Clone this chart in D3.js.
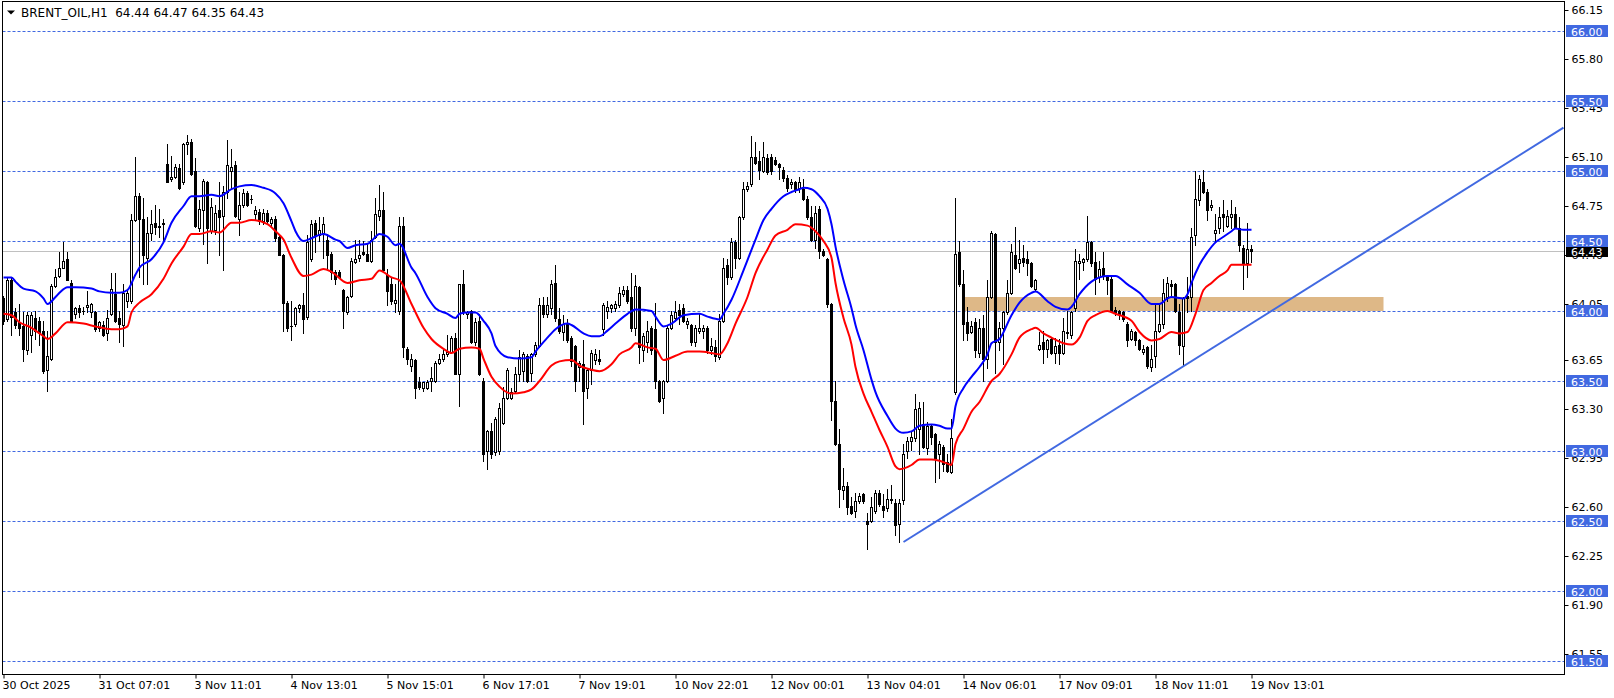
<!DOCTYPE html>
<html><head><meta charset="utf-8">
<script src="https://cdn.jsdelivr.net/npm/d3@7"></script>
<style>html,body{margin:0;padding:0;background:#fff;overflow:hidden}text{font-family:"DejaVu Sans",sans-serif;font-size:11px}</style>
</head><body>
<svg id="c" width="1614" height="698"></svg>
<script>
const symbolTitle = "BRENT_OIL,H1";
const lastQuote = [64.44, 64.47, 64.35, 64.43];
const opens = [
64.09,63.94,64.22,63.99,63.92,63.89,63.72,63.83,63.95,63.93,
63.86,63.58,63.66,64.18,64.25,64.31,64.37,64.20,63.98,64.02,
64.00,64.03,63.99,63.99,63.88,63.90,63.84,63.98,64.12,63.95,
63.90,64.07,64.07,64.65,64.82,64.66,64.38,64.56,64.63,64.60,
64.62,65.05,64.94,64.96,65.02,64.92,65.19,65.21,65.00,64.59,
64.72,64.92,64.57,64.58,64.72,64.68,64.85,65.00,65.04,64.66,
64.76,64.84,64.80,64.69,64.71,64.64,64.70,64.63,64.66,64.53,
64.40,64.06,63.89,63.91,64.02,64.04,63.96,64.37,64.63,64.54,
64.56,64.51,64.41,64.28,64.28,64.15,63.99,64.11,64.35,64.38,
64.42,64.41,64.36,64.53,64.68,64.72,64.26,64.19,64.06,64.00,
64.61,63.73,63.61,63.65,63.49,63.45,63.45,63.50,63.50,63.63,
63.66,63.69,63.71,63.81,63.55,64.19,63.98,64.00,63.78,63.93,
63.50,63.00,63.14,62.99,63.00,63.20,63.38,63.38,63.43,63.55,
63.57,63.68,63.56,63.69,63.75,64.04,63.98,64.02,64.20,63.94,
63.85,63.91,63.81,63.75,63.60,63.62,63.45,63.58,63.65,63.66,
63.87,64.00,64.02,64.02,64.04,64.12,64.15,64.10,63.88,64.17,
63.72,63.78,63.88,63.87,63.50,63.38,63.50,63.88,63.95,64.01,
64.02,63.91,63.90,63.78,63.86,63.86,63.88,63.72,63.74,63.67,
63.93,64.33,64.24,64.49,64.38,64.67,64.87,64.91,65.10,65.07,
65.00,65.09,65.10,65.08,65.05,65.01,64.95,64.91,64.92,64.88,
64.87,64.80,64.67,64.51,64.73,64.43,64.37,64.05,63.36,63.05,
62.72,62.75,62.61,62.57,62.64,62.69,62.50,62.50,62.57,62.70,
62.61,62.59,62.65,62.63,62.48,62.65,63.00,63.07,63.09,63.16,
63.19,63.02,63.18,63.12,62.98,63.03,62.92,62.85,63.42,64.42,
64.19,63.92,63.85,63.92,63.70,63.88,63.66,64.10,64.55,63.78,
63.88,63.99,64.13,64.40,64.34,64.38,64.37,64.34,64.16,63.73,
63.78,63.73,63.80,63.70,63.76,63.70,63.85,63.83,64.02,64.34,
64.35,64.37,64.49,64.35,64.24,64.31,64.24,64.23,64.01,64.00,
63.99,63.91,63.80,63.85,63.79,63.71,63.74,63.60,63.68,63.86,
63.91,64.10,64.19,64.19,63.99,63.75,64.11,64.10,64.54,64.79,
64.92,64.85,64.74,64.56,64.59,64.69,64.61,64.67,64.69,64.59,
64.45,64.34,64.44];
const highs = [
64.11,64.24,64.24,64.02,64.05,63.99,63.99,63.99,64.00,63.96,
63.93,63.86,64.19,64.30,64.42,64.49,64.42,64.22,64.03,64.04,
64.03,64.14,64.06,64.00,63.93,63.93,64.01,64.27,64.27,64.00,
64.19,64.16,64.69,65.10,64.84,64.81,64.67,64.72,64.76,64.73,
64.66,65.19,65.11,65.05,65.05,65.20,65.26,65.23,65.09,64.79,
64.94,64.93,64.81,64.76,64.92,64.89,65.22,65.16,65.07,64.85,
64.87,64.86,64.83,64.75,64.73,64.73,64.72,64.67,64.68,64.55,
64.41,64.07,64.07,64.03,64.05,64.13,64.54,64.65,64.65,64.67,
64.67,64.55,64.42,64.29,64.29,64.16,64.11,64.38,64.51,64.51,
64.50,64.48,64.57,64.81,64.90,64.85,64.30,64.24,64.19,64.67,
64.67,63.74,63.69,63.66,63.53,63.49,63.51,63.60,63.64,63.69,
63.72,63.83,63.82,63.84,64.19,64.29,64.00,64.01,63.95,63.98,
63.52,63.15,63.20,63.24,63.34,63.46,63.59,63.45,63.60,63.72,
63.71,63.69,63.70,63.78,64.09,64.10,64.10,64.22,64.33,64.02,
63.97,63.94,63.82,63.76,63.64,63.79,63.59,63.72,63.73,63.72,
64.06,64.07,64.05,64.07,64.17,64.18,64.18,64.27,64.26,64.18,
63.84,63.93,63.89,64.06,63.51,63.51,63.89,64.00,64.07,64.05,
64.05,63.95,63.91,63.90,63.98,63.90,63.89,63.81,63.79,63.98,
64.38,64.37,64.52,64.51,64.68,64.92,64.92,65.25,65.21,65.14,
65.21,65.12,65.12,65.10,65.06,65.03,64.97,64.94,64.93,64.96,
64.94,64.82,64.75,64.75,64.75,64.44,64.38,64.06,63.50,63.16,
62.88,62.78,62.67,62.70,62.70,62.70,62.56,62.67,62.72,62.72,
62.69,62.73,62.76,62.66,62.66,63.05,63.10,63.14,63.41,63.35,
63.35,63.21,63.19,63.13,63.07,63.04,62.98,63.23,64.81,64.50,
64.29,64.03,63.93,63.95,63.94,63.97,64.22,64.57,64.56,63.92,
64.00,64.22,64.48,64.60,64.51,64.47,64.43,64.35,64.23,63.85,
63.86,63.80,63.81,63.81,63.80,63.95,64.00,64.00,64.44,64.41,
64.38,64.68,64.50,64.42,64.36,64.42,64.26,64.24,64.03,64.01,
64.00,63.92,63.87,63.86,63.80,63.76,63.75,63.76,64.06,64.05,
64.23,64.24,64.22,64.20,64.05,64.10,64.24,64.59,65.00,64.97,
65.01,64.87,64.79,64.69,64.74,64.79,64.72,64.79,64.74,64.67,
64.47,64.63,64.47];
const lows = [
63.91,63.93,63.83,63.88,63.83,63.64,63.69,63.71,63.80,63.76,
63.56,63.43,63.65,64.17,64.24,64.31,64.22,63.92,63.95,63.96,
63.98,63.99,63.96,63.86,63.86,63.82,63.79,63.97,63.92,63.78,
63.75,64.03,64.06,64.64,64.24,64.19,64.19,64.51,64.55,64.53,
64.49,64.92,64.93,64.95,64.87,64.91,65.12,64.97,64.60,64.57,
64.48,64.34,64.56,64.55,64.40,64.29,64.81,64.88,64.67,64.54,
64.74,64.75,64.77,64.65,64.62,64.62,64.63,64.61,64.50,64.40,
63.86,63.86,63.79,63.89,63.99,63.84,63.94,64.36,64.42,64.50,
64.38,64.31,64.23,64.19,64.24,63.88,63.98,64.10,64.34,64.36,
64.40,64.36,64.35,64.52,64.65,64.28,64.04,64.05,63.99,63.98,
63.67,63.62,63.57,63.38,63.44,63.43,63.44,63.43,63.49,63.62,
63.64,63.68,63.70,63.55,63.32,63.98,63.95,63.77,63.76,63.54,
62.93,62.87,62.95,62.97,62.98,63.19,63.37,63.37,63.42,63.50,
63.50,63.49,63.50,63.68,63.74,63.96,63.96,63.98,63.93,63.84,
63.79,63.78,63.61,63.43,63.50,63.19,63.38,63.48,63.62,63.62,
63.83,63.95,63.99,64.00,64.03,64.11,64.06,63.86,63.83,63.63,
63.64,63.71,63.69,63.45,63.35,63.27,63.49,63.87,63.93,63.91,
63.92,63.88,63.76,63.75,63.84,63.81,63.70,63.69,63.64,63.66,
63.92,64.19,64.23,64.31,64.37,64.66,64.86,64.89,65.05,64.94,
64.99,64.98,64.98,65.04,64.94,64.93,64.86,64.88,64.85,64.85,
64.79,64.66,64.50,64.45,64.38,64.39,64.03,63.22,63.04,62.60,
62.66,62.55,62.55,62.53,62.63,62.63,62.30,62.49,62.56,62.61,
62.53,62.57,62.63,62.40,62.35,62.62,62.95,63.01,63.07,62.98,
63.02,62.98,63.05,62.78,62.81,62.86,62.85,62.84,63.41,64.18,
63.79,63.79,63.84,63.67,63.67,63.50,63.59,64.09,63.56,63.72,
63.62,63.98,64.12,64.30,64.28,64.32,64.26,64.17,64.15,63.72,
63.63,63.67,63.69,63.63,63.62,63.69,63.81,63.81,64.00,64.23,
64.29,64.36,64.32,64.12,64.21,64.23,64.12,63.99,63.97,63.94,
63.93,63.75,63.79,63.76,63.72,63.69,63.59,63.57,63.60,63.85,
63.88,64.07,64.10,63.99,63.69,63.61,63.99,64.00,64.47,64.76,
64.84,64.65,64.72,64.49,64.56,64.57,64.60,64.59,64.59,64.43,
64.16,64.24,64.35];
const closes = [
63.93,64.22,63.96,63.90,63.88,63.73,63.97,63.97,63.86,63.84,
63.57,63.68,64.18,64.24,64.31,64.36,64.22,63.93,64.02,63.99,
64.00,64.04,64.05,63.87,63.92,63.83,63.95,64.16,63.93,63.91,
64.13,64.13,64.65,64.82,64.66,64.40,64.56,64.62,64.60,64.61,
64.63,64.92,64.96,65.03,64.88,65.19,65.21,64.98,64.61,64.73,
64.93,64.59,64.74,64.70,64.67,64.85,65.04,65.03,64.68,64.76,
64.84,64.76,64.80,64.72,64.64,64.70,64.64,64.66,64.52,64.40,
64.06,63.88,63.89,64.02,64.04,63.94,64.49,64.62,64.54,64.58,
64.62,64.40,64.28,64.23,64.24,64.00,64.10,64.36,64.37,64.40,
64.41,64.36,64.51,64.69,64.72,64.29,64.14,64.07,64.08,64.61,
63.74,63.66,63.66,63.45,63.46,63.49,63.49,63.52,63.63,63.66,
63.69,63.71,63.81,63.55,64.19,64.00,63.99,63.78,63.92,63.55,
62.98,63.14,62.98,63.23,63.31,63.38,63.58,63.42,63.55,63.67,
63.69,63.50,63.69,63.76,64.04,63.98,64.04,64.19,63.95,63.86,
63.91,63.79,63.64,63.50,63.63,63.43,63.58,63.70,63.69,63.64,
64.04,64.03,64.04,64.05,64.13,64.15,64.07,63.88,64.18,63.74,
63.82,63.86,63.72,63.50,63.36,63.50,63.88,63.97,63.99,63.97,
63.93,63.93,63.78,63.88,63.88,63.88,63.72,63.75,63.68,63.93,
64.31,64.24,64.49,64.38,64.67,64.87,64.89,65.10,65.06,65.01,
65.10,64.99,65.00,65.05,65.03,64.95,64.88,64.92,64.87,64.92,
64.80,64.67,64.51,64.70,64.43,64.40,64.05,63.36,63.05,62.73,
62.75,62.60,62.56,62.64,62.68,62.64,62.48,62.60,62.70,62.62,
62.58,62.66,62.66,62.47,62.63,62.98,63.07,63.10,63.30,63.31,
63.03,63.18,63.10,62.95,63.05,62.91,62.86,63.09,64.41,64.19,
63.91,63.84,63.89,63.72,63.88,63.66,64.10,64.56,63.78,63.88,
63.99,64.13,64.42,64.31,64.37,64.35,64.34,64.18,64.22,63.76,
63.73,63.79,63.70,63.75,63.70,63.86,63.84,63.99,64.36,64.36,
64.37,64.49,64.34,64.23,64.30,64.25,64.22,64.00,63.99,63.98,
63.94,63.79,63.86,63.79,63.73,63.73,63.61,63.66,63.86,63.91,
64.13,64.20,64.18,64.00,63.76,64.09,64.09,64.53,64.80,64.94,
64.85,64.72,64.76,64.58,64.67,64.67,64.68,64.69,64.60,64.47,
64.34,64.44,64.43];

const blueBars = [0,2,3,5,8,10,11,13,14,16,18,22,24,27,29,31,33,34,37,40,42,45,47,49,52,54,57,59,62,65,67,68,70,72,73,75,77,80,83,84,86,88,91,92,94,96,98,99,102,103,106,108,111,113,114,116,118,120,122,123,126,129,132,133,136,138,141,142,145,147,149,151,153,156,158,162,163,165,167,170,174,176,179,180,182,185,188,190,192,195,197,199,200,202,204,206,207,208,210,212,213,215,217,218,221,223,225,227,229,232,234,236,237,238,240,242,244,246,247,249,252,254,257,258,261,263,266,267,269,272,274,276,278,281,284,287,289,291,292,295,296,297,299,301,303,305,307,308,310,312];
const blueVals = [64.24,64.24,64.21,64.16,64.14,64.09,64.05,64.10,64.13,64.17,64.17,64.16,64.14,64.13,64.13,64.15,64.26,64.31,64.37,64.49,64.63,64.75,64.82,64.82,64.83,64.82,64.87,64.89,64.90,64.88,64.86,64.84,64.77,64.64,64.57,64.50,64.52,64.55,64.51,64.50,64.45,64.47,64.48,64.50,64.55,64.53,64.47,64.48,64.31,64.27,64.10,64.02,63.98,63.95,63.98,63.99,63.99,63.93,63.84,63.75,63.67,63.66,63.67,63.71,63.81,63.87,63.91,63.90,63.84,63.82,63.82,63.86,63.91,63.98,64.01,64.00,63.96,63.89,63.91,63.97,63.98,63.96,63.94,63.98,64.08,64.29,64.51,64.65,64.73,64.82,64.85,64.87,64.88,64.87,64.82,64.73,64.62,64.46,64.22,64.02,63.90,63.72,63.51,63.42,63.25,63.16,63.13,63.14,63.18,63.19,63.18,63.16,63.16,63.32,63.45,63.53,63.60,63.69,63.77,63.80,63.97,64.06,64.13,64.14,64.07,64.03,64.01,64.03,64.12,64.21,64.24,64.25,64.25,64.19,64.13,64.05,64.05,64.09,64.10,64.09,64.12,64.20,64.33,64.42,64.49,64.53,64.57,64.59,64.58,64.58];
const redBars = [0,2,4,7,8,10,11,13,16,20,23,27,29,31,32,34,37,40,42,45,47,49,52,54,57,59,62,66,68,70,72,75,77,80,82,86,89,92,94,97,99,102,105,107,110,112,114,117,119,120,122,124,127,130,132,134,137,139,142,144,147,149,152,154,157,158,161,163,165,168,171,174,177,179,181,183,186,188,191,193,196,198,201,203,205,207,208,210,212,213,215,217,219,221,223,224,227,229,232,234,236,237,238,240,242,244,247,249,252,254,257,258,260,262,265,267,269,271,273,276,278,282,284,287,289,292,294,296,298,300,302,304,306,307,312];
const redVals = [63.98,63.97,63.92,63.88,63.86,63.82,63.80,63.84,63.92,63.91,63.89,63.87,63.87,63.89,63.99,64.06,64.12,64.23,64.34,64.46,64.55,64.55,64.57,64.56,64.63,64.63,64.65,64.62,64.57,64.51,64.38,64.25,64.26,64.30,64.28,64.20,64.22,64.23,64.29,64.24,64.22,64.05,63.88,63.80,63.73,63.70,63.73,63.74,63.73,63.66,63.53,63.46,63.41,63.42,63.44,63.50,63.61,63.64,63.65,63.61,63.58,63.57,63.62,63.69,63.74,63.77,63.74,63.73,63.65,63.68,63.71,63.71,63.70,63.69,63.77,63.91,64.10,64.27,64.44,64.54,64.58,64.62,64.61,64.57,64.50,64.38,64.20,63.95,63.76,63.60,63.41,63.28,63.15,63.03,62.89,62.87,62.90,62.94,62.94,62.93,62.91,62.90,63.05,63.16,63.28,63.35,63.50,63.55,63.69,63.81,63.87,63.88,63.84,63.81,63.77,63.76,63.81,63.93,63.97,64.00,63.98,63.93,63.85,63.79,63.80,63.85,63.84,63.85,63.98,64.15,64.20,64.25,64.29,64.33,64.33];

const xTickBars = [0,24,48,72,96,120,144,168,192,216,240,264,288,312];
const xTickLabels = ["30 Oct 2025","31 Oct 07:01","3 Nov 11:01","4 Nov 13:01","5 Nov 15:01","6 Nov 17:01","7 Nov 19:01","10 Nov 22:01","12 Nov 00:01","13 Nov 04:01","14 Nov 06:01","17 Nov 09:01","18 Nov 11:01","19 Nov 13:01"];
const priceTicks = [66.15,65.80,65.45,65.10,64.75,64.40,64.05,63.65,63.30,62.95,62.60,62.25,61.90,61.55];
const levels = [66.00,65.50,65.00,64.50,64.00,63.50,63.00,62.50,62.00,61.50];
const currentPrice = 64.43;
const zoneBars = [240,345];
const zonePrices = [64.10,64.00];
const trendBars = [225,390];
const trendPrices = [62.35,65.31];

const L=2.5, R=1564.5, T=1.5, B=674.5;
const x = d3.scaleLinear().domain([0,390]).range([3.5, 3.5+4*390]);
const y = d3.scaleLinear().domain([61.5,66]).range([661,31]);
const py = v => Math.round(y(v));
const svg = d3.select('#c');
svg.append('rect').attr('width',1614).attr('height',698).attr('fill','#fff');
svg.append('defs').append('clipPath').attr('id','clip').append('rect')
  .attr('x',L).attr('y',T).attr('width',R-L).attr('height',B-T);
const g = svg.append('g').attr('clip-path','url(#clip)');

// horizontal levels
g.selectAll('line.lvl').data(levels).join('line').attr('class','lvl')
  .attr('x1',L).attr('x2',R).attr('y1',d=>py(d)+0.5).attr('y2',d=>py(d)+0.5)
  .attr('stroke','#4169E1').attr('stroke-width',1).attr('stroke-dasharray','3,2');
// current price line
g.append('line').attr('x1',L).attr('x2',R).attr('y1',py(currentPrice)+0.5).attr('y2',py(currentPrice)+0.5)
  .attr('stroke','#C0C0C0').attr('stroke-width',1);
// zone
g.append('rect').attr('x',x(zoneBars[0])).attr('width',x(zoneBars[1])-x(zoneBars[0]))
  .attr('y',py(zonePrices[0])).attr('height',py(zonePrices[1])-py(zonePrices[0]))
  .attr('fill','#DEB887');

// candles
const idx = d3.range(opens.length);
const cg = g.append('g');
cg.selectAll('line.wick').data(idx).join('line').attr('class','wick')
  .attr('x1',i=>x(i)).attr('x2',i=>x(i))
  .attr('y1',i=>py(Math.max(highs[i],opens[i],closes[i])))
  .attr('y2',i=>py(Math.min(lows[i],opens[i],closes[i]))+1)
  .attr('stroke','#000').attr('stroke-width',1);
idx.forEach(i=>{
  const top = py(Math.max(opens[i],closes[i]));
  const bot = py(Math.min(opens[i],closes[i]));
  const cx = x(i);
  if (bot-top < 1) {
    cg.append('rect').attr('x',cx-1.5).attr('y',top).attr('width',3).attr('height',1).attr('fill','#000');
  } else if (closes[i] > opens[i]) {
    cg.append('rect').attr('x',cx-1).attr('y',top+0.5).attr('width',2).attr('height',bot-top)
      .attr('fill','#fff').attr('stroke','#000').attr('stroke-width',1);
  } else {
    cg.append('rect').attr('x',cx-1.5).attr('y',top).attr('width',3).attr('height',bot-top+1).attr('fill','#000');
  }
});

// moving averages
const line = d3.line().curve(d3.curveMonotoneX);
g.append('path').attr('d',line(blueBars.map((b,k)=>[x(b),y(blueVals[k])])))
  .attr('fill','none').attr('stroke','#0000FF').attr('stroke-width',2);
g.append('path').attr('d',line(redBars.map((b,k)=>[x(b),y(redVals[k])])))
  .attr('fill','none').attr('stroke','#FF0000').attr('stroke-width',2);

// trendline
g.append('line').attr('x1',x(trendBars[0])).attr('y1',y(trendPrices[0]))
  .attr('x2',x(trendBars[1])).attr('y2',y(trendPrices[1]))
  .attr('stroke','#4169E1').attr('stroke-width',2);

// frame
svg.append('rect').attr('x',L).attr('y',T).attr('width',R-L).attr('height',B-T)
  .attr('fill','none').attr('stroke','#000').attr('stroke-width',1);

// right axis
const ra = svg.append('g').attr('transform',`translate(${R},0)`)
  .call(d3.axisRight(y).tickValues(priceTicks).tickFormat(d3.format('.2f')).tickSize(4).tickPadding(3));
ra.select('.domain').remove();
ra.selectAll('line').attr('stroke','#000');
ra.selectAll('text').attr('fill','#000').style('font-family','"DejaVu Sans",sans-serif').style('font-size','11px');

// price labels: current price first, then level boxes on top
const lab = svg.append('g');
{
  const yy = py(currentPrice);
  lab.append('rect').attr('x',1566).attr('y',yy-6).attr('width',42).attr('height',12).attr('fill','#000');
  lab.append('text').attr('x',1571).attr('y',yy+4.5).attr('fill','#fff').text(d3.format('.2f')(currentPrice));
}
levels.forEach(v=>{
  const yy = py(v);
  lab.append('rect').attr('x',1566).attr('y',yy-6).attr('width',42).attr('height',12).attr('fill','#4169E1');
  lab.append('text').attr('x',1571).attr('y',yy+4.5).attr('fill','#fff').text(d3.format('.2f')(v));
});

// bottom axis
const ba = svg.append('g').attr('transform',`translate(0,${B})`)
  .call(d3.axisBottom(x).tickValues(xTickBars).tickFormat((d,k)=>xTickLabels[k]).tickSize(4).tickPadding(3));
ba.select('.domain').remove();
ba.selectAll('line').attr('stroke','#000');
ba.selectAll('text').attr('fill','#000').attr('text-anchor','start').attr('x',-1.5)
  .style('font-family','"DejaVu Sans",sans-serif').style('font-size','11px');

// title
svg.append('path').attr('d','M7,10.5 L15,10.5 L11,14.5 Z').attr('fill','#000');
svg.append('text').attr('x',21).attr('y',17).attr('fill','#000').style('white-space','pre').style('font-size','12px')
  .text(symbolTitle + '  ' + lastQuote.map(d3.format('.2f')).join(' '));
</script>
</body></html>
